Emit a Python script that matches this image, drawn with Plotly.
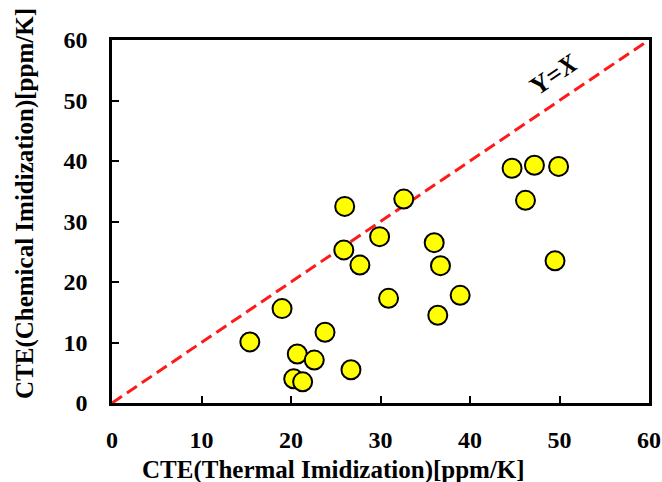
import plotly.graph_objects as go

thermal = [15.4, 19.0, 20.7, 20.3, 21.3, 22.6, 23.8, 26.7, 25.9, 26.0, 27.7, 29.9,
           30.9, 32.6, 36.0, 36.7, 36.4, 38.9, 49.5, 46.2, 44.7, 47.2, 49.9]
chemical = [10.1, 15.6, 8.1, 4.0, 3.5, 7.1, 11.7, 5.5, 25.3, 32.5, 22.8, 27.5,
            17.3, 33.7, 26.5, 22.7, 14.5, 17.8, 23.5, 33.5, 38.8, 39.3, 39.1]
ref_line = [0, 60]
ticks = [0, 10, 20, 30, 40, 50, 60]

font_family = "Liberation Serif"
tick_font = dict(family=font_family, size=24, color="black", weight="bold")
title_font = dict(family=font_family, size=25, color="black", weight="bold")

fig = go.Figure()
fig.add_trace(go.Scatter(x=ref_line, y=ref_line, mode="lines",
                         line=dict(color="#ff1a1a", width=3, dash="12px,6px"),
                         showlegend=False, hoverinfo="skip", cliponaxis=False))
fig.add_trace(go.Scatter(x=thermal, y=chemical, mode="markers",
                         marker=dict(size=19, color="#ffff00",
                                     line=dict(color="black", width=2)),
                         showlegend=False))

fig.add_annotation(x=49.4, y=54.3, text="<b>Y=<i>X</i></b>", showarrow=False,
                   textangle=-34, font=dict(family=font_family, size=26, color="black"))

axis_common = dict(range=[0, 60], tickvals=ticks, showgrid=False, zeroline=False,
                   showline=True, linecolor="black", linewidth=2.5, mirror=True,
                   ticks="inside", ticklen=7, tickwidth=2, tickcolor="black",
                   tickfont=tick_font, automargin=False)

fig.update_xaxes(**axis_common, ticklabelstandoff=13)
fig.update_yaxes(**axis_common, ticklabelstandoff=17)

fig.add_annotation(xref="paper", yref="paper", x=(333 - 112) / 537, y=-(470 - 403) / 363,
                   text="<b>CTE(Thermal Imidization)[ppm/K]</b>", showarrow=False,
                   font=title_font, xanchor="center", yanchor="middle")
fig.add_annotation(xref="paper", yref="paper", x=-(112 - 25) / 537, y=(403 - 204) / 363,
                   text="<b>CTE(Chemical Imidization)[ppm/K]</b>", showarrow=False,
                   textangle=-90, font=title_font, xanchor="center", yanchor="middle")

fig.update_layout(width=662, height=482, plot_bgcolor="white", paper_bgcolor="white",
                  margin=dict(l=112, r=13, t=40, b=79, autoexpand=False),
                  font=dict(family=font_family, color="black"))
fig.write_html("out.html", config={"displayModeBar": False},
               post_script="document.body.style.margin='0';document.body.style.padding='0';document.body.style.overflow='hidden';")
